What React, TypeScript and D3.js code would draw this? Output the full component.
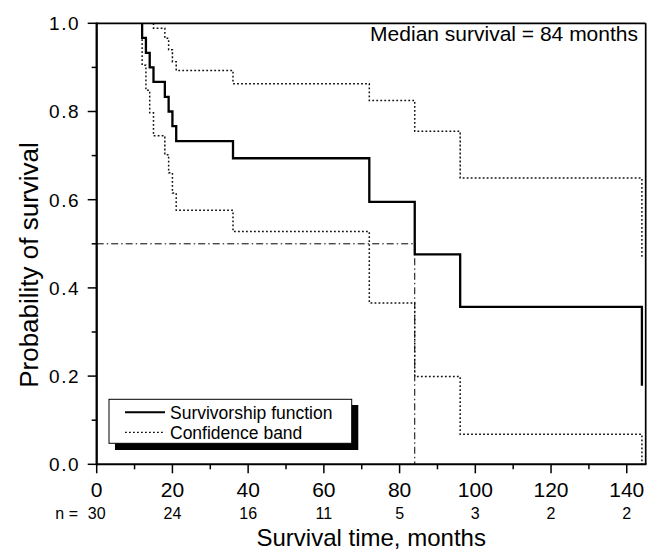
import React from "react";
import * as d3 from "d3";

// Kaplan-Meier estimate
const eventTimes = [12, 13, 14, 15, 18, 19, 20, 21, 36, 72, 84, 96, 144];
const survival = [0.967, 0.933, 0.9, 0.867, 0.833, 0.8, 0.767, 0.733, 0.694, 0.595, 0.476, 0.357, 0.178];

const upperTimes = [15, 18, 19, 20, 21, 36, 72, 84, 96, 144];
const upperBand = [0.989, 0.966, 0.94, 0.913, 0.893, 0.863, 0.825, 0.755, 0.649, 0.468];

const lowerBand = [0.905, 0.848, 0.797, 0.745, 0.702, 0.661, 0.615, 0.576, 0.528, 0.366, 0.199, 0.068, 0];

const medianSurvival = 84;
const xTicks = [0, 20, 40, 60, 80, 100, 120, 140];
const xMinorTicks = [10, 30, 50, 70, 90, 110, 130];
const yTicks = [0, 0.2, 0.4, 0.6, 0.8, 1.0];
const yMinorTicks = [0.1, 0.3, 0.5, 0.7, 0.9];
const atRisk = [30, 24, 16, 11, 5, 3, 2, 2];

const font = "'Liberation Sans', Arial, Helvetica, sans-serif";

const width = 647;
const height = 550;
const margin = { left: 96.7, right: 1.3, top: 23.3, bottom: 85.7 };

export default function App() {
  const x = d3.scaleLinear().domain([0, 145]).range([margin.left, width - margin.right]);
  const y = d3.scaleLinear().domain([0, 1]).range([height - margin.bottom, margin.top]);

  const step = d3
    .line<[number, number]>()
    .x((d) => x(d[0]))
    .y((d) => y(d[1]))
    .curve(d3.curveStepAfter);

  const survPts: [number, number][] = [[eventTimes[0], 1], ...eventTimes.map((t, i) => [t, survival[i]] as [number, number])];
  const upperPts: [number, number][] = [[upperTimes[0], 1], ...upperTimes.map((t, i) => [t, upperBand[i]] as [number, number])];
  const lowerPts: [number, number][] = [[eventTimes[0], 1], ...eventTimes.map((t, i) => [t, lowerBand[i]] as [number, number])];

  const x0 = x(0);
  const x1 = x(145);
  const yb = y(0);
  const yt = y(1);
  const dotted = "1.8,2.2";
  const dashDot = "7,3,1.5,3";

  return (
    <svg width={width} height={height} style={{ position: "absolute", left: 0, top: 0, background: "#fff" }} fontFamily={font}>
      {/* median guide */}
      <line x1={x0} x2={x(medianSurvival)} y1={y(0.5)} y2={y(0.5)} stroke="#000" strokeWidth={1} strokeDasharray={dashDot} />
      <line x1={x(medianSurvival)} x2={x(medianSurvival)} y1={y(0.5)} y2={yb} stroke="#000" strokeWidth={1} strokeDasharray={dashDot} />

      {/* confidence band */}
      <path d={step(upperPts) || ""} fill="none" stroke="#111" strokeWidth={1.5} strokeDasharray={dotted} />
      <path d={step(lowerPts) || ""} fill="none" stroke="#111" strokeWidth={1.5} strokeDasharray={dotted} />

      {/* survivorship function */}
      <path d={step(survPts) || ""} fill="none" stroke="#000" strokeWidth={2.3} />

      {/* frame */}
      <line x1={x0} x2={x1} y1={yt} y2={yt} stroke="#000" strokeWidth={1.7} />
      <line x1={x1} x2={x1} y1={yt} y2={yb} stroke="#000" strokeWidth={1.7} />
      <line x1={x0} x2={x1 + 0.8} y1={yb} y2={yb} stroke="#000" strokeWidth={2} />
      <line x1={x0} x2={x0} y1={yt - 0.8} y2={yb + 1} stroke="#000" strokeWidth={2.3} />

      {/* y axis ticks */}
      {yTicks.map((v) => (
        <g key={"y" + v}>
          <line x1={x0 - 9} x2={x0} y1={y(v)} y2={y(v)} stroke="#000" strokeWidth={1.5} />
          <text x={80} y={y(v) + 6.8} textAnchor="end" fontSize={19} letterSpacing={1.5}>
            {d3.format(".1f")(v)}
          </text>
        </g>
      ))}
      {yMinorTicks.map((v) => (
        <line key={"ym" + v} x1={x0 - 5} x2={x0} y1={y(v)} y2={y(v)} stroke="#000" strokeWidth={1.5} />
      ))}

      {/* x axis ticks */}
      {xTicks.map((v, i) => (
        <g key={"x" + v}>
          <line x1={x(v)} x2={x(v)} y1={yb} y2={yb + 9} stroke="#000" strokeWidth={1.5} />
          <text x={x(v)} y={497} textAnchor="middle" fontSize={21}>
            {v}
          </text>
          <text x={x(v)} y={519} textAnchor="middle" fontSize={16}>
            {atRisk[i]}
          </text>
        </g>
      ))}
      {xMinorTicks.map((v) => (
        <line key={"xm" + v} x1={x(v)} x2={x(v)} y1={yb} y2={yb + 5} stroke="#000" strokeWidth={1.5} />
      ))}
      <text x={78} y={519} textAnchor="end" fontSize={16}>
        n =
      </text>

      {/* axis titles */}
      <text x={(x0 + x1) / 2} y={546} textAnchor="middle" fontSize={24}>
        Survival time, months
      </text>
      <text transform={`translate(38, 265) rotate(-90)`} textAnchor="middle" fontSize={26}>
        Probability of survival
      </text>

      {/* annotation */}
      <text x={638} y={40.5} textAnchor="end" fontSize={21}>
        Median survival = {medianSurvival} months
      </text>

      {/* legend */}
      <rect x={115} y={405} width={243.3} height={45} fill="#000" />
      <rect x={109} y={399.3} width={242.7} height={44} fill="#fff" stroke="#000" strokeWidth={1} />
      <line x1={125} x2={165} y1={412.3} y2={412.3} stroke="#000" strokeWidth={2} />
      <line x1={125} x2={165} y1={432.3} y2={432.3} stroke="#111" strokeWidth={1.3} strokeDasharray={dotted} />
      <text x={170} y={418.5} fontSize={17.5}>
        Survivorship function
      </text>
      <text x={170} y={438.5} fontSize={17.5}>
        Confidence band
      </text>
    </svg>
  );
}
